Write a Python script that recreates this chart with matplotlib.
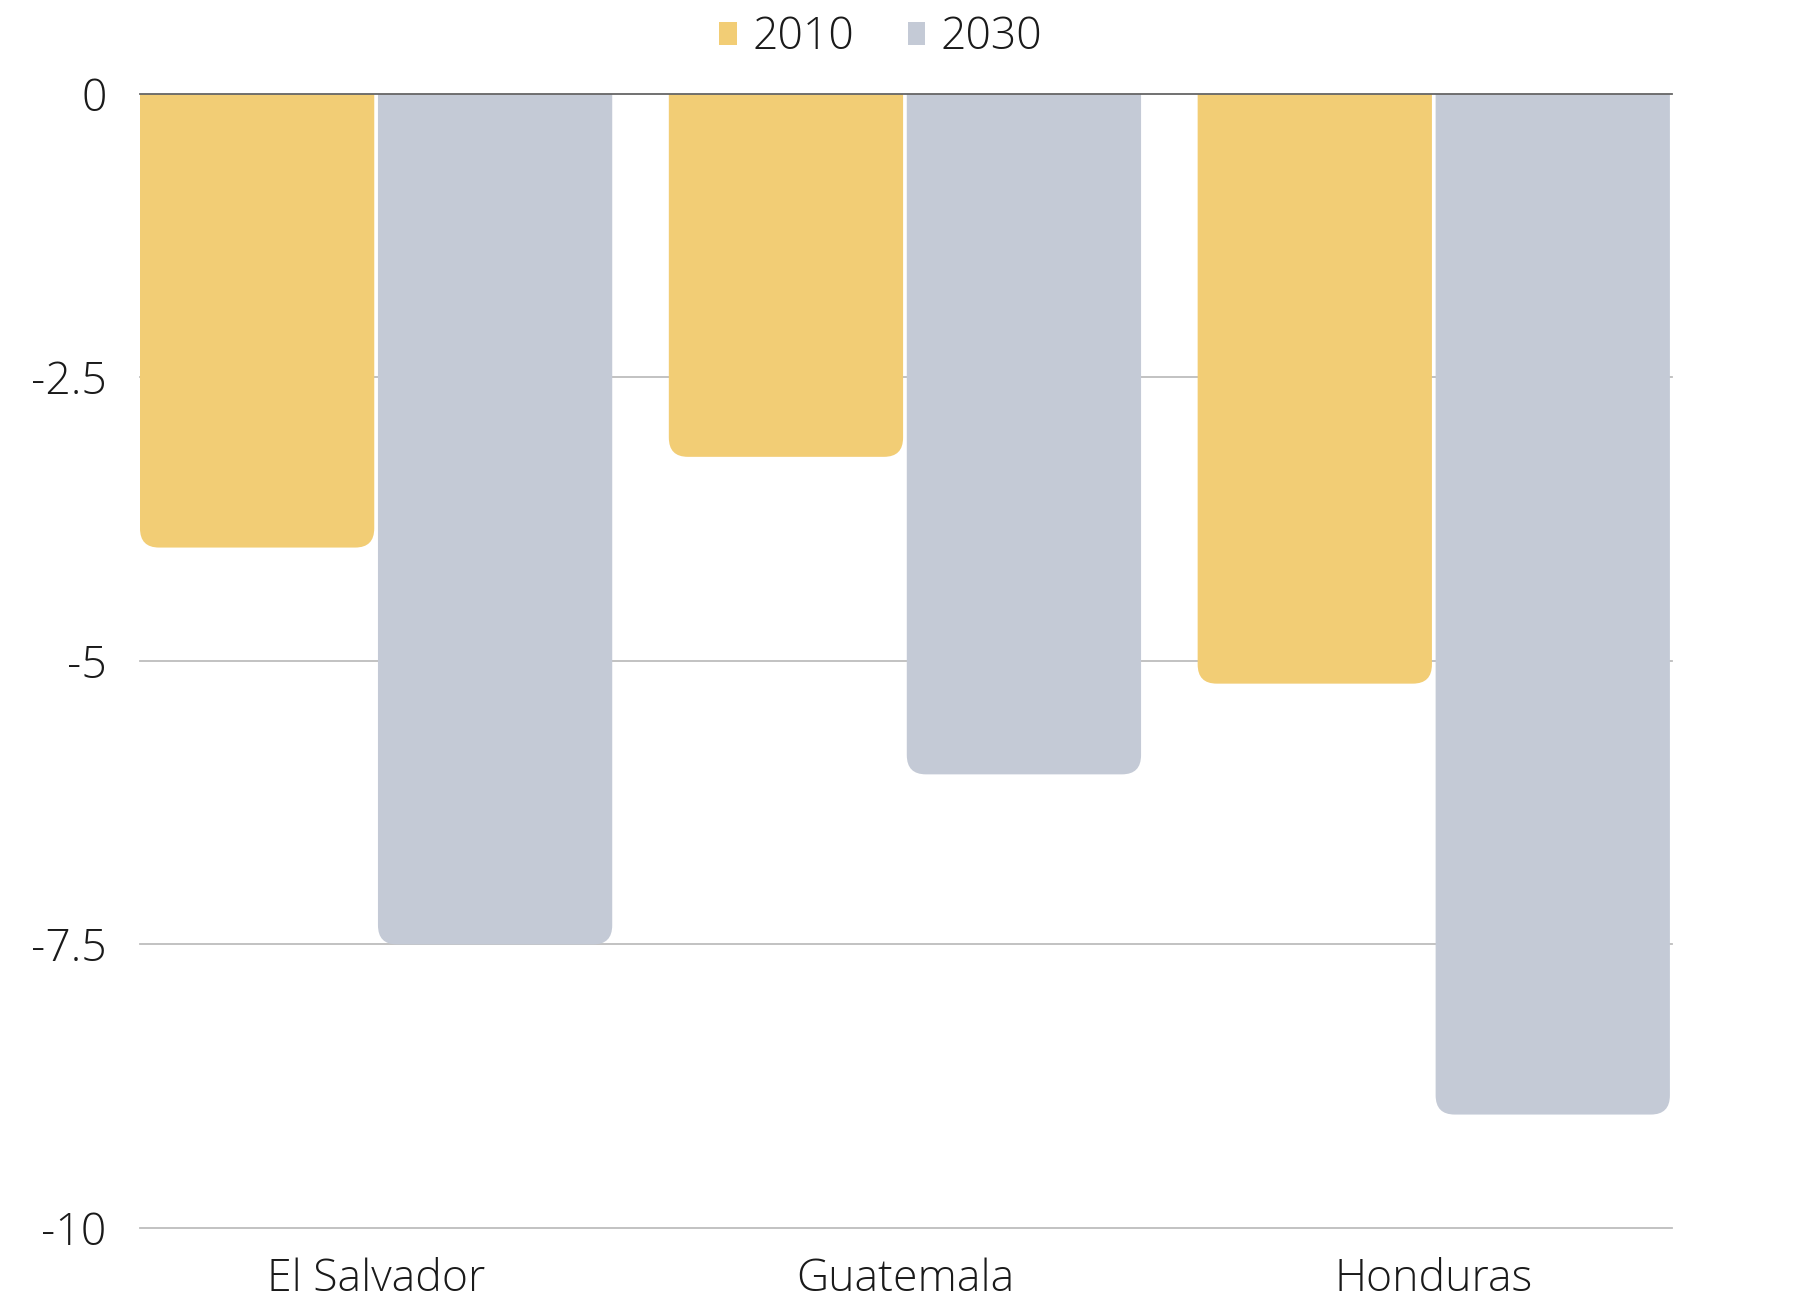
import matplotlib
matplotlib.use('Agg')
import matplotlib.pyplot as plt
from matplotlib.patches import FancyBboxPatch, Patch
import numpy as np

plt.rcParams['font.family'] = ['Open Sans', 'DejaVu Sans']
plt.rcParams['axes.unicode_minus'] = False

# data
countries = ['El Salvador', 'Guatemala', 'Honduras']
vals_2010 = [-4.0, -3.2, -5.2]
vals_2030 = [-7.5, -6.0, -9.0]
series_names = ['2010', '2030']
series_colors = ['#F2CD75', '#C4CAD6']
y_ticks = [0, -2.5, -5, -7.5, -10]
y_ticklabels = ['0', '-2.5', '-5', '-7.5', '-10']

fig = plt.figure(figsize=(18.18, 12.96), dpi=100)
ax = fig.add_axes([0.077, 0.0525, 0.8427, 0.875])

x = np.arange(len(countries))
w = 0.443
offs = [-0.2255, 0.2245]

# plain bars first, then swap them for rounded ones
for vals, off, col in zip([vals_2010, vals_2030], offs, series_colors):
    bars = ax.bar(x + off, vals, width=w, color=col, linewidth=0)
    for b in bars:
        x0 = b.get_x()
        y0 = b.get_y() + b.get_height()   # bottom end (negative)
        h = -b.get_height()
        b.remove()
        p = FancyBboxPatch((x0, y0), b.get_width(), h + 0.5,
                           boxstyle='round,pad=0,rounding_size=0.036',
                           mutation_aspect=4.7, facecolor=col,
                           edgecolor='none', zorder=2)
        ax.add_patch(p)

ax.set_xlim(-0.447, 2.45)
ax.set_ylim(-10.0, 0)
ax.set_yticks(y_ticks)
ax.set_yticklabels(y_ticklabels)
ax.set_xticks(x)
ax.set_xticklabels(countries)
ax.tick_params(length=0, labelsize=32, colors='#1a1a1a')
ax.tick_params(axis='y', pad=24)
ax.tick_params(axis='x', pad=21)
for lab in ax.get_xticklabels() + ax.get_yticklabels():
    lab.set_fontweight('light')

for s in ax.spines.values():
    s.set_visible(False)

for yv in y_ticks[1:]:
    ax.axhline(yv, color='#BDBDBD', lw=1.3, zorder=1, clip_on=False)
ax.axhline(0, color='#666666', lw=1.3, zorder=3, clip_on=False)

handles = [Patch(facecolor=c, edgecolor='none') for c in series_colors]
leg = fig.legend(handles, series_names, loc='center', bbox_to_anchor=(0.4845, 0.9705),
                 ncol=2, frameon=False, fontsize=32, handlelength=0.4,
                 handleheight=0.4, handletextpad=0.35, columnspacing=1.2)
for t in leg.get_texts():
    t.set_fontweight('light')
    t.set_color('#1a1a1a')

fig.savefig('out.png', dpi=100, facecolor='white')
